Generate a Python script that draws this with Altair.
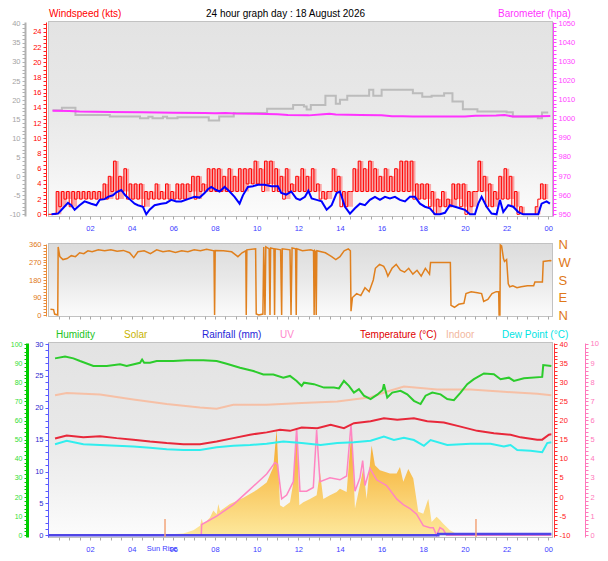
import altair as alt
import pandas as pd

FONT = "Liberation Sans"
XMIN, XMAX = 0.03, 24.18
W = 503
H1, H2, H3 = 194, 72, 194

# ---------------- data (hours, values) ----------------
# wind speed per 15 minutes: (time, low, high) in knots
wind_range = [
    (0.25, 0, 0), (0.5, 0, 3), (0.75, 1, 3), (1.0, 2, 3), (1.25, 1, 3), (1.5, 2, 3), (1.75, 2, 3), (2.0, 2, 3),
    (2.25, 2, 3), (2.5, 2, 3), (2.75, 2, 4), (3.0, 2, 5), (3.25, 3, 7), (3.5, 2, 5), (3.75, 3, 6), (4.0, 2, 4),
    (4.25, 2, 4), (4.5, 2, 4), (4.75, 1, 3), (5.0, 2, 3), (5.25, 2, 4), (5.5, 2, 3), (5.75, 2, 4), (6.0, 2, 3),
    (6.25, 2, 4), (6.5, 2, 4), (6.75, 2, 4), (7.0, 3, 5), (7.25, 2, 5), (7.5, 3, 4), (7.75, 3, 6), (8.0, 3, 6),
    (8.25, 3, 6), (8.5, 3, 5), (8.75, 3, 6), (9.0, 3, 5), (9.25, 3, 6), (9.5, 3, 6), (9.75, 4, 6), (10.0, 4, 7),
    (10.25, 4, 6), (10.5, 3, 7), (10.75, 4, 7), (11.0, 3, 6), (11.25, 3, 5), (11.5, 2, 6), (11.75, 3, 4), (12.0, 3, 5),
    (12.25, 3, 6), (12.5, 3, 5), (12.75, 3, 6), (13.0, 3, 4), (13.25, 2, 3), (13.5, 2, 3), (13.75, 3, 6), (14.0, 3, 5),
    (14.25, 1, 3), (14.5, 1, 3), (14.75, 3, 6), (15.0, 3, 7), (15.25, 3, 6), (15.5, 3, 7), (15.75, 3, 6), (16.0, 3, 5),
    (16.25, 3, 6), (16.5, 3, 5), (16.75, 3, 6), (17.0, 3, 7), (17.25, 3, 7), (17.5, 3, 7), (17.75, 2, 4), (18.0, 2, 4),
    (18.25, 2, 4), (18.5, 1, 3), (18.75, 0, 2), (19.0, 1, 3), (19.25, 1, 2), (19.5, 1, 4), (19.75, 2, 4), (20.0, 1, 4),
    (20.25, 0, 3), (20.5, 1, 3), (20.75, 3, 7), (21.0, 3, 5), (21.25, 1, 4), (21.5, 1, 3), (21.75, 2, 5), (22.0, 2, 6),
    (22.25, 2, 5), (22.5, 1, 3), (22.75, 0, 1), (23.0, 0, 0), (23.25, 0, 0), (23.5, 0, 1), (23.75, 2, 4), (24.0, 2, 4),
]

wind_avg = [
    (0.15, 0.0), (0.46, 0.1), (0.70, 0.8), (0.94, 1.5), (1.10, 1.2), (1.26, 0.6), (1.50, 1.2), (1.74, 1.7),
    (2.06, 1.4), (2.30, 1.2), (2.46, 1.9), (2.70, 2.0), (2.86, 2.3), (3.10, 2.5), (3.26, 2.9), (3.50, 3.2),
    (3.69, 2.5), (3.90, 2.0), (4.14, 1.4), (4.30, 1.2), (4.54, 1.0), (4.70, 0.0), (4.86, 0.6), (5.10, 1.2),
    (5.42, 1.4), (5.66, 1.5), (5.90, 1.9), (6.14, 1.7), (6.38, 1.7), (6.70, 2.0), (7.02, 2.3), (7.26, 2.2),
    (7.50, 2.8), (7.66, 3.3), (7.82, 3.6), (8.06, 3.2), (8.22, 3.0), (8.46, 3.6), (8.70, 3.0), (8.94, 2.3),
    (9.18, 1.4), (9.34, 2.5), (9.58, 3.6), (9.82, 3.7), (10.06, 3.9), (10.38, 3.9), (10.70, 3.7), (11.02, 3.7),
    (11.18, 2.8), (11.42, 2.6), (11.66, 3.0), (11.90, 2.1), (12.08, 1.9), (12.32, 2.3), (12.48, 3.1), (12.64, 2.1),
    (12.88, 1.9), (13.12, 1.7), (13.36, 0.6), (13.60, 1.2), (13.84, 2.8), (14.00, 3.0), (14.24, 1.0), (14.48, 0.1),
    (14.72, 0.8), (14.96, 1.4), (15.20, 1.2), (15.44, 1.9), (15.68, 2.3), (15.92, 1.9), (16.16, 2.3), (16.40, 2.1),
    (16.64, 2.3), (16.88, 1.9), (17.12, 1.7), (17.36, 2.3), (17.60, 2.3), (17.84, 1.4), (18.08, 1.0), (18.32, 0.8),
    (18.56, 0.0), (18.80, 0.0), (19.04, 0.2), (19.28, 1.2), (19.52, 1.0), (19.76, 0.8), (20.00, 0.6), (20.24, 0.0),
    (20.48, 0.0), (20.64, 1.4), (20.80, 2.3), (21.04, 1.0), (21.28, 0.1), (21.52, 0.0), (21.68, 1.9), (21.84, 0.3),
    (22.08, 1.2), (22.32, 1.0), (22.56, 0.3), (22.80, 0.0), (23.12, 0.0), (23.52, 0.0), (23.68, 1.4), (23.92, 1.7),
    (24.08, 1.4),
]

barometer = [
    (0.2, 1004.2), (1.0, 1004.1), (1.5, 1003.8), (3.0, 1003.6), (4.5, 1003.4), (6.0, 1003.2), (7.5, 1003.1),
    (8.0, 1002.9), (8.5, 1003.1), (9.0, 1002.8), (10.0, 1002.6), (11.0, 1002.4), (11.5, 1002.0), (12.5, 1001.8),
    (13.2, 1002.4), (13.5, 1002.6), (13.8, 1002.3), (15.0, 1002.0), (16.0, 1001.9), (16.5, 1001.4), (17.0, 1001.4),
    (17.5, 1001.2), (19.0, 1001.2), (20.0, 1001.2), (20.5, 1001.6), (21.5, 1001.7), (21.9, 1002.0), (22.3, 1001.2),
    (23.0, 1001.2), (23.6, 1001.4), (24.1, 1001.5),
]

grey_steps = [
    (0.2, 17.3), (0.65, 18.0), (1.3, 16.1), (2.95, 15.7), (4.4, 15.2), (4.8, 15.6), (5.0, 15.2), (5.5, 15.6),
    (5.7, 15.2), (6.2, 15.5), (7.7, 14.6), (8.2, 15.7), (8.9, 16.6), (10.5, 17.7), (11.75, 18.7), (12.27, 18.3),
    (12.4, 17.5), (12.6, 18.7), (13.3, 21.1), (13.8, 19.0), (14.0, 20.1), (14.35, 21.1), (15.4, 22.7), (15.6, 21.1),
    (16.0, 22.7), (17.5, 21.8), (17.95, 20.9), (18.4, 21.1), (19.0, 21.8), (19.4, 19.6), (19.9, 17.6), (20.6, 17.0),
    (22.0, 16.8), (22.3, 15.7), (23.5, 15.2), (23.7, 16.7), (24.0, 16.7),
]

direction = [
    (0.1, 30), (0.25, 28), (0.3, 5), (0.45, 0), (0.47, 350), (0.55, 300), (0.7, 285), (0.9, 290), (1.1, 305),
    (1.3, 300), (1.5, 320), (1.7, 315), (1.9, 330), (2.1, 325), (2.4, 335), (2.7, 330), (3.0, 335), (3.3, 328),
    (3.6, 332), (3.9, 320), (4.1, 295), (4.3, 325), (4.6, 330), (4.9, 315), (5.2, 335), (5.5, 325), (5.8, 330),
    (6.1, 322), (6.4, 330), (6.7, 325), (7.0, 335), (7.3, 330), (7.6, 338), (7.95, 330), (7.98, 0), (8.01, 332),
    (8.4, 330), (8.8, 325), (9.1, 300), (9.3, 320), (9.48, 330), (9.5, 0), (9.53, 335), (9.95, 340), (9.98, 5),
    (10.1, 0), (10.3, 5), (10.34, 350), (10.4, 0), (10.44, 350), (10.6, 340), (10.64, 0), (10.67, 345),
    (10.83, 340), (10.86, 0), (10.89, 340), (11.15, 335), (11.2, 0), (11.23, 340), (11.6, 335), (11.65, 0),
    (11.7, 345), (11.87, 340), (11.9, 0), (11.93, 340), (12.2, 330), (12.6, 335), (12.73, 330), (12.76, 0),
    (12.79, 330), (12.83, 325), (12.86, 0), (12.89, 330), (13.3, 320), (13.6, 300), (13.8, 285), (14.0, 300),
    (14.2, 330), (14.4, 340), (14.5, 330), (14.53, 20), (14.6, 90), (14.8, 110), (15.0, 100), (15.2, 140),
    (15.4, 120), (15.6, 180), (15.7, 240), (15.9, 260), (16.1, 250), (16.2, 230), (16.3, 200), (16.5, 240),
    (16.7, 260), (16.9, 230), (17.1, 220), (17.3, 240), (17.5, 210), (17.7, 230), (17.9, 200), (18.1, 240),
    (18.3, 210), (18.35, 270), (19.3, 270), (19.33, 50), (19.5, 40), (19.7, 55), (19.95, 60), (20.05, 110),
    (20.3, 120), (20.6, 115), (20.8, 110), (20.9, 70), (21.1, 80), (21.3, 110), (21.5, 120), (21.62, 120),
    (21.64, 0), (21.68, 0), (21.7, 360), (21.76, 355), (21.85, 290), (21.9, 275), (22.0, 285), (22.08, 160),
    (22.15, 145), (22.3, 150), (22.5, 140), (22.7, 145), (23.0, 150), (23.3, 150), (23.36, 170), (23.72, 170),
    (23.76, 275), (24.1, 280), (24.15, 278),
]

humidity = [
    (0.32, 92.5), (0.80, 93.5), (1.2, 92.5), (1.52, 91.1), (2.16, 88.5), (2.8, 88.5), (3.44, 89.4), (3.76, 88.5),
    (4.4, 90.2), (4.5, 91.9), (4.6, 90.2), (4.88, 90.2), (5.2, 91.1), (6.0, 91.1), (6.64, 91.5), (7.44, 91.5),
    (8.08, 91.1), (8.56, 89.7), (9.2, 87.6), (9.84, 85.9), (10.32, 84.1), (10.8, 84.1), (11.28, 82.4), (11.6, 83.3),
    (11.92, 80.7), (12.16, 78.1), (12.27, 79.8), (12.75, 79.0), (13.23, 77.2), (13.71, 77.2), (13.95, 76.8),
    (14.19, 80.7), (14.43, 78.1), (14.67, 74.6), (14.91, 76.4), (15.15, 73.0), (15.47, 71.2), (15.79, 73.5),
    (16.05, 76.0), (16.11, 79.0), (16.27, 72.0), (16.51, 74.6), (16.91, 75.5), (17.23, 73.7), (17.55, 70.3),
    (17.87, 68.6), (18.11, 73.0), (18.43, 74.6), (18.83, 73.7), (19.15, 71.2), (19.47, 70.6), (19.79, 74.6),
    (20.11, 79.0), (20.43, 81.6), (20.91, 84.6), (21.39, 84.2), (21.71, 81.6), (22.11, 82.4), (22.35, 80.7),
    (22.83, 82.1), (23.71, 82.8), (23.76, 89.0), (24.15, 88.5),
]

temperature = [
    (0.32, 15.3), (0.88, 16.1), (1.68, 15.6), (2.48, 15.9), (3.28, 15.4), (4.08, 15.0), (4.88, 14.5), (5.68, 14.1),
    (6.48, 13.8), (7.28, 13.8), (8.08, 14.5), (8.88, 15.4), (9.68, 16.3), (10.48, 16.9), (11.12, 17.6), (11.6, 17.3),
    (12.16, 18.2), (12.91, 18.0), (13.55, 18.9), (14.19, 18.0), (14.67, 19.3), (15.47, 19.8), (16.11, 20.6),
    (16.75, 20.2), (17.55, 20.6), (18.19, 19.8), (18.99, 19.5), (19.79, 18.4), (20.59, 17.3), (21.39, 16.7),
    (22.19, 16.3), (22.67, 15.6), (23.47, 15.0), (23.71, 15.0), (24.03, 16.3), (24.15, 16.4),
]

dew_point = [
    (0.32, 13.8), (0.88, 14.7), (1.68, 13.8), (2.48, 13.6), (3.28, 13.4), (4.08, 13.2), (4.88, 12.9), (5.68, 12.5),
    (6.48, 12.3), (7.28, 12.3), (8.08, 13.0), (8.88, 13.4), (9.68, 13.6), (10.48, 13.9), (11.28, 14.5), (12.16, 14.1),
    (13.07, 13.6), (13.87, 14.1), (14.67, 14.3), (15.47, 14.7), (16.11, 15.8), (16.59, 14.9), (17.07, 15.5),
    (17.55, 14.9), (18.03, 13.4), (18.35, 14.9), (19.15, 13.6), (20.27, 13.9), (21.23, 13.9), (21.87, 13.2),
    (22.19, 13.6), (22.51, 12.3), (23.15, 12.1), (23.71, 11.7), (23.95, 14.1), (24.15, 14.3),
]

indoor = [
    (0.32, 26.6), (0.88, 27.2), (2.48, 26.8), (4.08, 25.5), (5.68, 24.3), (7.28, 23.4), (8.08, 23.1), (8.88, 24.1),
    (10.48, 24.1), (12.16, 24.6), (13.87, 25.0), (15.47, 26.1), (16.27, 27.6), (17.07, 28.9), (17.87, 28.5),
    (18.67, 28.1), (20.27, 28.1), (21.87, 27.5), (23.47, 27.0), (24.15, 26.6),
]

# solar radiation, W/m2
solar = [
    (6.05, 0), (6.08, 10), (6.48, 15), (6.96, 40), (7.28, 75), (7.36, 130), (7.44, 85), (7.76, 140), (7.92, 195),
    (8.08, 165), (8.16, 245), (8.24, 190), (8.72, 245), (9.36, 295), (10.0, 355), (10.48, 415), (10.8, 535),
    (10.96, 830), (11.12, 235), (11.28, 220), (11.6, 260), (11.76, 415), (11.92, 835), (12.05, 235), (12.24, 260),
    (12.56, 285), (12.88, 315), (13.04, 495), (13.2, 285), (13.52, 315), (13.84, 340), (14.0, 365), (14.32, 340),
    (14.56, 835), (14.72, 210), (14.96, 395), (15.12, 525), (15.28, 285), (15.52, 705), (15.68, 550), (15.92, 510),
    (16.4, 485), (16.72, 485), (16.88, 535), (17.04, 420), (17.28, 520), (17.52, 445), (17.76, 185), (18.0, 170),
    (18.24, 285), (18.4, 105), (18.64, 145), (18.8, 120), (18.96, 90), (19.28, 40), (19.6, 10), (19.76, 0),
]

uv_index = [
    (7.34, 0.0), (7.36, 0.56), (8.08, 1.0), (8.88, 1.6), (9.68, 2.4), (10.48, 3.2), (10.88, 3.8), (11.0, 3.7),
    (11.2, 1.9), (11.44, 2.1), (11.76, 2.8), (11.92, 5.6), (12.08, 2.3), (12.4, 2.3), (12.72, 2.5), (12.88, 5.5),
    (13.04, 2.8), (13.52, 3.0), (14.0, 2.9), (14.32, 3.1), (14.53, 5.8), (14.72, 2.3), (14.96, 3.0), (15.09, 3.9),
    (15.2, 2.6), (15.44, 3.5), (15.76, 2.9), (16.24, 2.6), (16.72, 1.9), (17.04, 1.6), (17.36, 1.4), (17.68, 1.1),
    (18.0, 0.5), (18.32, 0.4), (18.48, 0.4), (18.64, 0.0), (18.8, 0.4), (18.96, 0.3), (19.12, 0.0), (24.15, 0.0),
]

rainfall = [(0.03, 0.0), (18.7, 0.0), (18.72, 0.2), (24.15, 0.2)]

sun_events = [("Sun Rise", 5.6), ("", 20.53)]

top_labels = [("24 hour graph day : 18 August 2026", "#000000", 157),
              ("Windspeed (kts)", "#ff0000", 0), ("Barometer (hpa)", "#ff33ff", 449)]
bottom_labels = [("Humidity", "#22c322", 7), ("Solar", "#c8b400", 75), ("Rainfall (mm)", "#2626d8", 153),
                 ("UV", "#ff88cc", 231), ("Temperature (°C)", "#e00000", 311), ("Indoor", "#f2b79e", 397),
                 ("Dew Point (°C)", "#00e4e4", 453)]


def df(pairs):
    return pd.DataFrame(pairs, columns=["t", "v"])


wind_df = pd.DataFrame(wind_range, columns=["t", "lo", "hi"])
# the gusty trace flickers between the low and high value read for each 15-minute slot
zig = []
for t, lo, hi in wind_range:
    zig.append((t - 0.25, lo))
    zig.append((t - 0.125, hi))
zig_df = df(zig)
sun_df = pd.DataFrame(sun_events, columns=["label", "t"])

# ---------------- helpers ----------------
XTICKS = [0.5 * i for i in range(1, 49)]


def xenc(labels=True):
    return alt.X(
        "t:Q",
        scale=alt.Scale(domain=[XMIN, XMAX], nice=False, zero=False),
        axis=alt.Axis(
            title=None, values=XTICKS, labels=labels, labelOverlap=False, labelFlush=False,
            labelExpr="datum.value % 2 == 0 ? ((datum.value % 24) < 10 ? '0' + (datum.value % 24) : '' + (datum.value % 24)) : ''",
            labelColor="#3c3cff", labelFontSize=7.5, labelPadding=5, labelFont=FONT,
            tickSize=3, tickColor="#a8a8a8", domain=False,
            grid=True, gridColor="#c6c6c6", gridDash=[1, 2],
            gridOpacity={"condition": {"test": "datum.value % 2 == 0 && datum.value < 24", "value": 1}, "value": 0},
        ),
    )


def yaxis(orient, offset, values, major, color, label_color, dwidth=1, grid=False, size=7.5, pad=2, tick=3):
    if grid:
        kw = dict(grid=True, gridColor="#c6c6c6", gridDash=[1, 2],
                  gridOpacity={"condition": {"test": f"{major} && datum.value > {values[0]} && datum.value < {values[-1]}", "value": 1}, "value": 0})
    else:
        kw = dict(grid=False)
    return alt.Axis(
        orient=orient, offset=offset, values=values, title=None,
        labelExpr=f"{major} ? '' + datum.value : ''", labelOverlap=False, labelFlush=False,
        labelColor=label_color, labelFontSize=size, labelPadding=pad, labelFont=FONT,
        tickSize=tick, tickColor=color, tickWidth=1, domainColor=color, domainWidth=dwidth, **kw,
    )


def background(h, stops):
    grad = {"gradient": "linear", "x1": 0, "x2": 0, "y1": 0, "y2": 1,
            "stops": [{"offset": o, "color": c} for o, c in stops]}
    return alt.Chart(pd.DataFrame({"a": [0]})).mark_rect(color=grad).encode(
        x=alt.value(0), x2=alt.value(W), y=alt.value(0), y2=alt.value(h))


def label_layer(text, color, px, py, size=10, align="left"):
    return alt.Chart(pd.DataFrame({"a": [0]})).mark_text(
        text=text, color=color, font=FONT, fontSize=size, align=align, baseline="middle"
    ).encode(x=alt.value(px), y=alt.value(py))


BG_STOPS = [(0, "#e3e3e3"), (0.45, "#e8e8e8"), (0.7, "#f0f0f0"), (1, "#fcfcfc")]

# ---------------- top panel: wind + barometer ----------------
wind_scale = alt.Scale(domain=[-0.22, 25.3], nice=False, zero=False)
grey_scale = alt.Scale(domain=[-10.45, 40.5], nice=False, zero=False)
baro_scale = alt.Scale(domain=[949.1, 1050.7], nice=False, zero=False)

wind_axis = yaxis("left", 3, [0.5 * i for i in range(0, 51)], "datum.value % 2 == 0",
                  "#ff2020", "#ff0000", dwidth=1, grid=True)
grey_axis = yaxis("left", 24, list(range(-10, 41)), "datum.value % 5 == 0",
                  "#b0b0b0", "#a4a4a4", dwidth=2)
baro_axis = yaxis("right", 1, list(range(950, 1051, 2)), "datum.value % 10 == 0",
                  "#ff44ff", "#ff44ff", dwidth=1)

top_layers = [
    background(H1, BG_STOPS),
    alt.Chart(df(grey_steps)).mark_line(interpolate="step-after", color="#bcbcbc", strokeWidth=2).encode(
        x=xenc(), y=alt.Y("v:Q", scale=grey_scale, axis=grey_axis)),
    alt.Chart(df(barometer)).mark_line(color="#ff33ff", strokeWidth=2).encode(
        x=xenc(), y=alt.Y("v:Q", scale=baro_scale, axis=baro_axis)),
    alt.Chart(wind_df).mark_area(interpolate="step", color="#ff4a4a", opacity=0.45).encode(
        x=xenc(), y=alt.Y("lo:Q", scale=wind_scale, axis=wind_axis), y2="hi:Q"),
    alt.Chart(zig_df).mark_line(interpolate="step-after", color="#ff0000", strokeWidth=1).encode(
        x=xenc(), y=alt.Y("v:Q", scale=wind_scale, axis=None)),
    alt.Chart(df(wind_avg)).mark_line(color="#0000ff", strokeWidth=2).encode(
        x=xenc(), y=alt.Y("v:Q", scale=wind_scale, axis=None)),
]
for txt, col, px in top_labels:
    top_layers.append(label_layer(txt, col, px, -8))
top = alt.layer(*top_layers).resolve_scale(y="independent").properties(width=W, height=H1)

# ---------------- middle panel: wind direction ----------------
dir_scale = alt.Scale(domain=[-5, 365], nice=False, zero=False)
dir_axis = yaxis("left", 3, list(range(0, 361, 15)), "datum.value % 90 == 0",
                 "#e88c3c", "#e07818", grid=True)
compass_axis = alt.Axis(
    orient="right", offset=0, values=[0, 90, 180, 270, 360], title=None,
    labelExpr="datum.value == 90 ? 'E' : datum.value == 180 ? 'S' : datum.value == 270 ? 'W' : 'N'",
    labelColor="#e07818", labelFontSize=13, labelFont=FONT, labelPadding=6,
    ticks=False, domain=False, grid=False, labelOverlap=False, labelFlush=False,
)
mid = alt.layer(
    background(H2, [(0, "#dcdcdc"), (0.5, "#e9e9e9"), (1, "#fbfbfb")]),
    alt.Chart(df(direction)).mark_line(color="#e0801e", strokeWidth=1.5).encode(
        x=xenc(labels=False), y=alt.Y("v:Q", scale=dir_scale, axis=dir_axis)),
    alt.Chart(df(direction)).mark_line(opacity=0).encode(
        x=xenc(labels=False), y=alt.Y("v:Q", scale=dir_scale, axis=compass_axis)),
).resolve_scale(y="independent").properties(width=W, height=H2)

# ---------------- bottom panel: temperatures, humidity, solar, UV, rain ----------------
rain_scale = alt.Scale(domain=[-0.27, 30.16], nice=False, zero=False)
temp_scale = alt.Scale(domain=[-10.45, 40.27], nice=False, zero=False)
hum_scale = alt.Scale(domain=[-0.9, 100.53], nice=False, zero=False)
uv_scale = alt.Scale(domain=[-0.09, 10.05], nice=False, zero=False)
solar_scale = alt.Scale(domain=[-13.3, 1508], nice=False, zero=False)

hum_axis = yaxis("left", 22, list(range(0, 101, 2)), "datum.value % 10 == 0",
                 "#00cc00", "#33dd33", dwidth=3, size=7)
rain_axis = yaxis("left", 1, list(range(0, 31)), "datum.value % 5 == 0",
                  "#5a5aff", "#2a2ad0", dwidth=1)
temp_axis = yaxis("right", 2, list(range(-10, 41)), "datum.value % 5 == 0",
                  "#ff3030", "#ff2020", dwidth=1)
temp_grid_axis = alt.Axis(orient="right", values=[0, 10, 20, 30], labels=False, ticks=False, domain=False,
                          title=None, grid=True, gridColor="#c6c6c6", gridDash=[1, 2])
uv_axis = yaxis("right", 33, [round(0.2 * i, 1) for i in range(0, 51)], "datum.value % 1 == 0",
                "#ff77bb", "#ff77bb", dwidth=1)

solar_grad = {"gradient": "linear", "x1": 0, "x2": 0, "y1": 0, "y2": 1,
              "stops": [{"offset": 0, "color": "#f5a52a"}, {"offset": 0.45, "color": "#f8c255"},
                        {"offset": 1, "color": "#fde89c"}]}

bot_layers = [
    background(H3, BG_STOPS),
    alt.Chart(df(solar)).mark_area(color=solar_grad).encode(
        x=xenc(), y=alt.Y("v:Q", scale=solar_scale, axis=None)),
    alt.Chart(df(temperature)).mark_line(opacity=0).encode(
        x=xenc(), y=alt.Y("v:Q", scale=temp_scale, axis=temp_grid_axis)),
    alt.Chart(df(uv_index)).mark_line(color="#ff85c2", strokeWidth=1.5).encode(
        x=xenc(), y=alt.Y("v:Q", scale=uv_scale, axis=uv_axis)),
    alt.Chart(df(indoor)).mark_line(color="#f6c0a6", strokeWidth=2).encode(
        x=xenc(), y=alt.Y("v:Q", scale=temp_scale, axis=None)),
    alt.Chart(df(temperature)).mark_line(color="#e8283a", strokeWidth=2).encode(
        x=xenc(), y=alt.Y("v:Q", scale=temp_scale, axis=temp_axis)),
    alt.Chart(df(dew_point)).mark_line(color="#30eeee", strokeWidth=2).encode(
        x=xenc(), y=alt.Y("v:Q", scale=temp_scale, axis=None)),
    alt.Chart(df(humidity)).mark_line(color="#2ccc2c", strokeWidth=2).encode(
        x=xenc(), y=alt.Y("v:Q", scale=hum_scale, axis=hum_axis)),
    alt.Chart(df(rainfall)).mark_line(interpolate="step-after", color="#5046e6", strokeWidth=2.5).encode(
        x=xenc(), y=alt.Y("v:Q", scale=rain_scale, axis=rain_axis)),
    alt.Chart(sun_df).mark_rule(color="#f2a57a", strokeWidth=1.5).encode(
        x=xenc(), y=alt.value(H3), y2=alt.value(H3 - 18)),
    alt.Chart(sun_df).mark_text(color="#3c3cff", font=FONT, fontSize=7.5, baseline="middle", dx=-3).encode(
        x=xenc(), y=alt.value(H3 + 12), text="label:N"),
]
for txt, col, px in bottom_labels:
    bot_layers.append(label_layer(txt, col, px, -8))
bot = alt.layer(*bot_layers).resolve_scale(y="independent").properties(width=W, height=H3)

chart = alt.vconcat(
    alt.vconcat(top, mid, spacing=4),
    bot, spacing=5,
).properties(
    padding={"left": 0, "right": 0, "top": 0, "bottom": 0}, background="white"
).configure_view(stroke="#c2c2c2", strokeWidth=2).configure_axis(labelFont=FONT)

chart.save("out.html", embed_options={"renderer": "svg", "actions": False})
